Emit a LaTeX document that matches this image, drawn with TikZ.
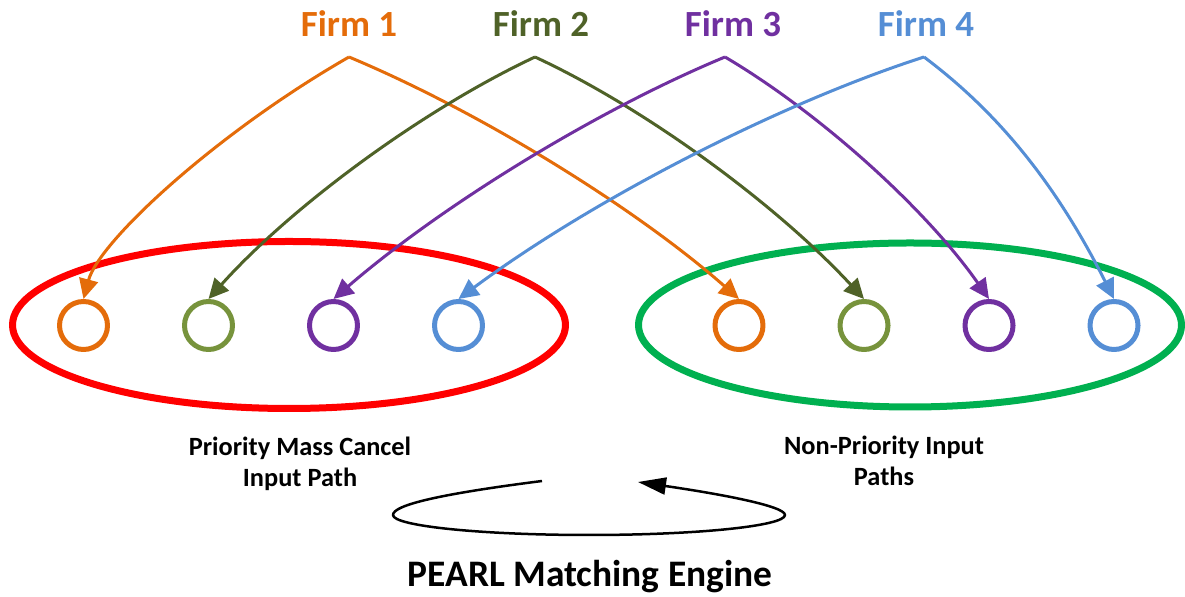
\documentclass[tikz,border=0pt]{standalone}
\usepackage{fontspec}
\setmainfont{Carlito}
\usetikzlibrary{arrows.meta,positioning,shapes.geometric}

\definecolor{firmorange}{HTML}{E46C0A}
\definecolor{firmolive}{HTML}{4F6228}
\definecolor{firmgreen}{HTML}{77933C}
\definecolor{firmpurple}{HTML}{7030A0}
\definecolor{firmblue}{HTML}{558ED5}
\definecolor{groupred}{HTML}{FF0000}
\definecolor{groupgreen}{HTML}{00B050}

\begin{document}
\begin{tikzpicture}[
    x = 0.2mm, y = 0.2mm, % one unit per pixel of the sketch
    > = {Triangle[length=4mm,width=3.8mm]}, % arrow head style
    line join = round,
    node distance = 14.4mm, % gap between the ports
    font = \bfseries
    ]

    \tikzset{
    firm/.style = {font=\fontsize{21}{25}\selectfont\bfseries, anchor=base},
    port/.style = {circle, draw, line width=1mm, minimum size=9.6mm, inner sep=0pt},
    feed/.style = {->, line width=0.6mm},
    group/.style = {ellipse, draw, line width=1.4mm, inner sep=0pt},
    caption/.style = {font=\fontsize{15}{17.5}\selectfont\bfseries, align=center},
    engine/.style = {-{Triangle[length=5.6mm,width=3.4mm]}, line width=0.5mm}
    }

    \useasboundingbox (0,0) rectangle (1185,597);

    % firms
    \node[firm, text=firmorange] (f1) at (349,560) {Firm 1};
    \node[firm, text=firmolive] (f2) at (541,560) {Firm 2};
    \node[firm, text=firmpurple] (f3) at (733,560) {Firm 3};
    \node[firm, text=firmblue] (f4) at (926,560) {Firm 4};
    \coordinate (a1) at (349,540);
    \coordinate (a2) at (535,540);
    \coordinate (a3) at (725,540);
    \coordinate (a4) at (924,540);

    % input paths
    \node[group, draw=groupred, minimum width=110.6mm, minimum height=33.4mm] (prio) at (289,272) {};
    \node[group, draw=groupgreen, minimum width=108.6mm, minimum height=32.8mm] (nonprio) at (910,272) {};

    \node[port, draw=firmorange] (p1) at (83.5,271.5) {};
    \node[port, draw=firmgreen] (p2) [right=of p1] {};
    \node[port, draw=firmpurple] (p3) [right=of p2] {};
    \node[port, draw=firmblue] (p4) [right=of p3] {};
    \node[port, draw=firmorange] (n1) at (739,271.5) {};
    \node[port, draw=firmgreen] (n2) [right=of n1] {};
    \node[port, draw=firmpurple] (n3) [right=of n2] {};
    \node[port, draw=firmblue] (n4) [right=of n3] {};

    \draw[feed, firmorange] (a1) .. controls (218,465) and (99,356) .. (p1.north);
    \draw[feed, firmorange] (a1) .. controls (483,484) and (638,387) .. (n1.north);
    \draw[feed, firmolive] (a2) .. controls (422,487) and (291,390) .. (p2.north);
    \draw[feed, firmolive] (a2) .. controls (645,489) and (776,393) .. (n2.north);
    \draw[feed, firmpurple] (a3) .. controls (597,487) and (441,391) .. (p3.north);
    \draw[feed, firmpurple] (a3) .. controls (820,484) and (926,388) .. (n3.north);
    \draw[feed, firmblue] (a4) .. controls (778,493) and (592,397) .. (p4.north);
    \draw[feed, firmblue] (a4) .. controls (1000,483) and (1057,411) .. (n4.north);

    \node[caption] (priotext) at (300,133.5) {Priority Mass Cancel\\Input Path};
    \node[caption] (nonpriotext) at (884,136.5) {Non-Priority Input\\Paths};

    % matching engine loop
    \coordinate (ls) at (542,116);
    \coordinate (le) at (638,115);
    \draw[engine] (ls) .. controls (440,103) and (393,92) .. (393,82)
        .. controls (393,71) and (481,62) .. (589,62)
        .. controls (697,62) and (785,71) .. (785,82)
        .. controls (785,91) and (720,103) .. (le);
    \node[font=\fontsize{21.3}{25}\selectfont\bfseries, anchor=base] (pearl) at (590,10) {PEARL Matching Engine};

\end{tikzpicture}
\end{document}
